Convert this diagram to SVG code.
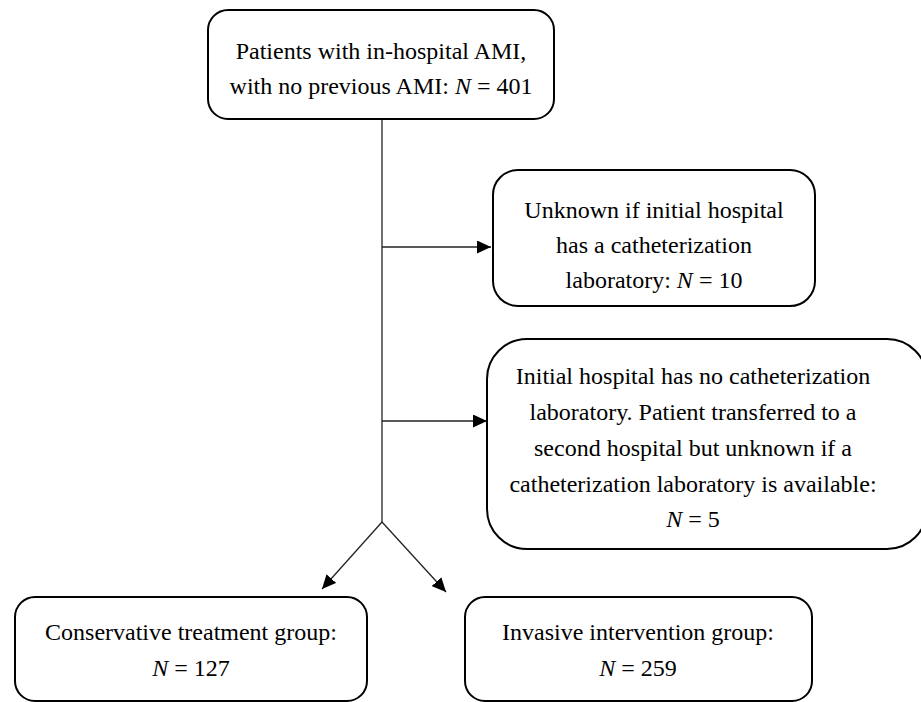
<svg xmlns="http://www.w3.org/2000/svg" width="921" height="702" viewBox="0 0 921 702">
  <style>
    .box { fill: #ffffff; stroke: #000000; stroke-width: 2; }
    .lbl { font-family: "Liberation Serif", "Times New Roman", serif; font-size: 24px; fill: #000000; text-anchor: middle; }
    .it { font-style: italic; }
    .conn { fill: none; stroke: #222222; stroke-width: 1.3; }
  </style>
  <defs>
    <marker id="arrow" markerUnits="userSpaceOnUse" markerWidth="15" markerHeight="13" refX="14" refY="6.5" orient="auto">
      <path d="M0,0 L14,6.5 L0,13 z" fill="#000000"/>
    </marker>
  </defs>
  <rect width="921" height="702" fill="#ffffff"/>

  <g id="connectors">
    <line class="conn" x1="382" y1="120" x2="382" y2="522"/>
    <line class="conn" x1="382" y1="247" x2="491" y2="247" marker-end="url(#arrow)"/>
    <line class="conn" x1="382" y1="421" x2="487" y2="421" marker-end="url(#arrow)"/>
    <line class="conn" x1="382" y1="522" x2="322" y2="589" marker-end="url(#arrow)"/>
    <line class="conn" x1="382" y1="522" x2="446" y2="592" marker-end="url(#arrow)"/>
  </g>

  <g id="node-start">
    <rect class="box" x="208" y="10" width="346" height="109" rx="20" ry="20"/>
    <text class="lbl" x="381" y="59">Patients with in-hospital AMI,</text>
    <text class="lbl" x="381" y="94">with no previous AMI: <tspan class="it">N</tspan> = 401</text>
  </g>

  <g id="node-unknown">
    <rect class="box" x="493" y="170" width="322" height="136" rx="25" ry="25"/>
    <text class="lbl" x="654" y="218">Unknown if initial hospital</text>
    <text class="lbl" x="654" y="253">has a catheterization</text>
    <text class="lbl" x="654" y="288">laboratory: <tspan class="it">N</tspan> = 10</text>
  </g>

  <g id="node-transferred">
    <rect class="box" x="487" y="339" width="440" height="210" rx="40" ry="40"/>
    <text class="lbl" x="693" y="384">Initial hospital has no catheterization</text>
    <text class="lbl" x="693" y="420">laboratory. Patient transferred to a</text>
    <text class="lbl" x="693" y="456">second hospital but unknown if a</text>
    <text class="lbl" x="693" y="492">catheterization laboratory is available:</text>
    <text class="lbl" x="693" y="527"><tspan class="it">N</tspan> = 5</text>
  </g>

  <g id="node-conservative">
    <rect class="box" x="15" y="597" width="352" height="104" rx="20" ry="20"/>
    <text class="lbl" x="191" y="640">Conservative treatment group:</text>
    <text class="lbl" x="191" y="676"><tspan class="it">N</tspan> = 127</text>
  </g>

  <g id="node-invasive">
    <rect class="box" x="465" y="597" width="347" height="104" rx="20" ry="20"/>
    <text class="lbl" x="638" y="640">Invasive intervention group:</text>
    <text class="lbl" x="638" y="676"><tspan class="it">N</tspan> = 259</text>
  </g>
</svg>
